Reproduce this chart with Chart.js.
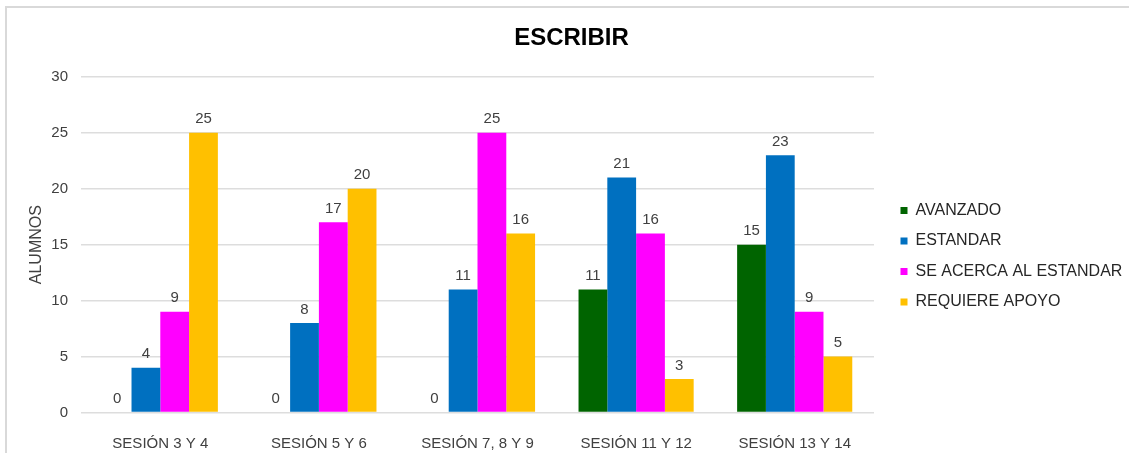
<!DOCTYPE html>
<html>
<head>
<meta charset="utf-8">
<script src="https://cdn.jsdelivr.net/npm/chart.js@4/dist/chart.umd.min.js"></script>
<style>
  html, body { margin: 0; padding: 0; background: #fff; }
  #wrap { position: relative; width: 1129px; height: 453px; }
  #frame { position: absolute; left: 5px; top: 6px; right: 0; bottom: 0;
           border-top: 2px solid #d9d9d9; border-left: 2px solid #d9d9d9; pointer-events: none; }
</style>
</head>
<body>
<div id="wrap">
  <canvas id="c" width="1129" height="453"></canvas>
  <div id="frame"></div>
</div>
<script>
const categories = ['SESIÓN 3 Y 4', 'SESIÓN 5 Y 6', 'SESIÓN 7, 8 Y 9', 'SESIÓN 11 Y 12', 'SESIÓN 13 Y 14'];
const seriesNames = ['AVANZADO', 'ESTANDAR', 'SE ACERCA AL ESTANDAR', 'REQUIERE APOYO'];
const avanzado = [0, 0, 0, 11, 15];
const estandar = [4, 8, 11, 21, 23];
const seAcerca = [9, 17, 25, 16, 9];
const requiereApoyo = [25, 20, 16, 3, 5];
const yMin = 0, yMax = 30, yStep = 5;
const chartTitle = 'ESCRIBIR';
const yTitle = 'ALUMNOS';

const colors = ['#006400', '#0070C0', '#FF00FF', '#FFC000'];
const seriesValues = [avanzado, estandar, seAcerca, requiereApoyo];
const FONT = "'Liberation Sans', Arial, sans-serif";

const valueLabels = {
  id: 'valueLabels',
  afterDatasetsDraw(chart) {
    const ctx = chart.ctx;
    ctx.save();
    ctx.font = '15px ' + FONT;
    ctx.fillStyle = '#404040';
    ctx.textAlign = 'center';
    ctx.textBaseline = 'bottom';
    chart.data.datasets.forEach((ds, i) => {
      const meta = chart.getDatasetMeta(i);
      meta.data.forEach((el, j) => {
        ctx.fillText(String(ds.data[j]), el.x, el.y - 6);
      });
    });
    ctx.restore();
  }
};

const legendWidth = {
  id: 'legendWidth',
  beforeLayout(chart) {
    const lg = chart.legend;
    if (lg && !lg._fixedWidth) {
      const origFit = lg.fit;
      lg.fit = function () { origFit.call(this); this.width = 243; };
      lg._fixedWidth = true;
    }
  }
};

new Chart(document.getElementById('c'), {
  type: 'bar',
  data: {
    labels: categories,
    datasets: seriesNames.map((name, i) => ({
      label: name,
      data: seriesValues[i],
      backgroundColor: colors[i],
      borderWidth: 0,
      categoryPercentage: 0.726,
      barPercentage: 1.0
    }))
  },
  options: {
    responsive: false,
    animation: false,
    devicePixelRatio: 1,
    layout: { padding: { left: 14, right: 0, top: 0, bottom: 0 } },
    plugins: {
      tooltip: { enabled: false },
      title: {
        display: true,
        text: chartTitle,
        color: '#000000',
        font: { family: FONT, size: 24, weight: 'bold' },
        padding: { top: 24, bottom: 24 }
      },
      legend: {
        position: 'right',
        align: 'center',
        fullSize: false,
        maxWidth: 300,
        title: { display: true, text: '', font: { size: 10 }, padding: { top: 5.5, bottom: 5.5 } },
        labels: {
          boxWidth: 7,
          boxHeight: 7,
          padding: 14.5,
          color: '#262626',
          font: { family: FONT, size: 16 }
        }
      }
    },
    scales: {
      x: {
        grid: { display: false },
        border: { display: false },
        ticks: { color: '#404040', font: { family: FONT, size: 15 }, padding: 14, maxRotation: 0 },
        afterFit(s) { s.height = 40.5; }
      },
      y: {
        min: yMin,
        max: yMax,
        ticks: { stepSize: yStep, color: '#404040', font: { family: FONT, size: 15 }, padding: 13 },
        grid: { color: '#dddddd', lineWidth: 1.5, drawTicks: false },
        border: { display: false },
        title: { display: true, text: yTitle, color: '#404040', font: { family: FONT, size: 16 }, padding: { top: 13 } },
        afterFit(s) { s.width = 67; }
      },
      gap: {
        type: 'linear',
        position: 'right',
        display: true,
        grid: { display: false, drawTicks: false },
        border: { display: false },
        ticks: { display: false },
        afterFit(s) { s.width = 12; }
      }
    }
  },
  plugins: [valueLabels, legendWidth]
});
</script>
</body>
</html>
